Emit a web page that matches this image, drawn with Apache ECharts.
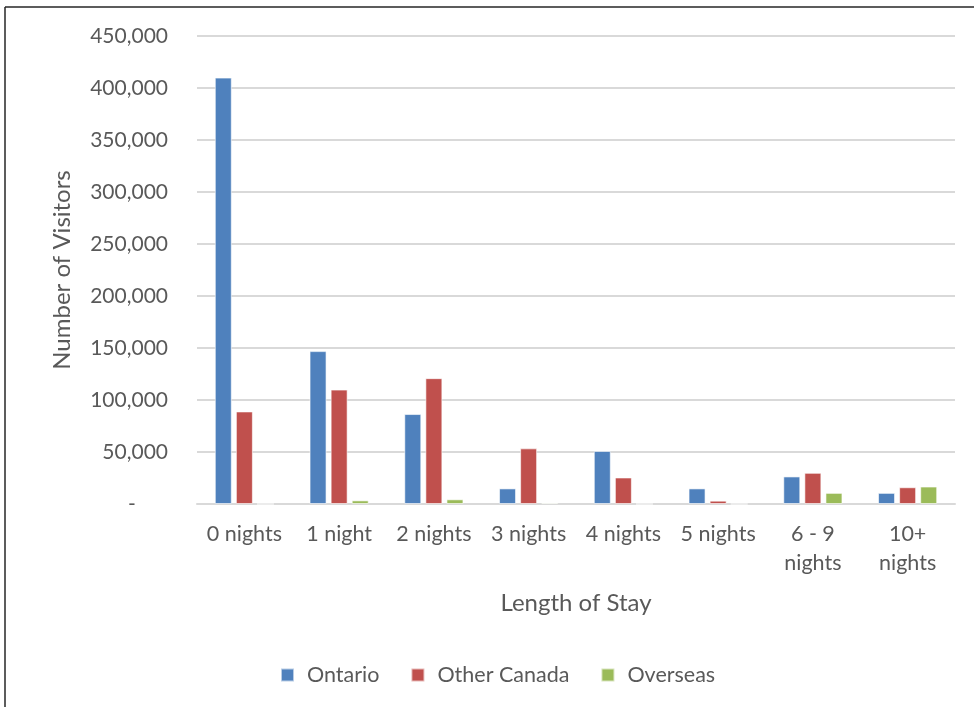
<!DOCTYPE html>
<html>
<head>
<meta charset="utf-8">
<script src="https://cdn.jsdelivr.net/npm/echarts@6/dist/echarts.min.js"></script>
<style>
  html, body { margin: 0; padding: 0; background: #ffffff; }
  #chart { width: 974px; height: 707px; }
</style>
</head>
<body>
<div id="chart"></div>
<script>
// Length-of-stay categories
const categories = ['0 nights', '1 night', '2 nights', '3 nights', '4 nights', '5 nights', '6 - 9\nnights', '10+\nnights'];

// Visitors by origin
const ontario = [410000, 147000, 86500, 15000, 51000, 15000, 26500, 10700];
const otherCanada = [89000, 110000, 121000, 53500, 25500, 3200, 30000, 16100];
const overseas = [0, 3500, 4500, 1200, 0, 0, 10700, 16800];

// Value axis ticks
const yMin = 0;
const yMax = 450000;
const yStep = 50000;

const font = 'Lato, "Open Sans", sans-serif';
const textColor = '#595959';

const chart = echarts.init(document.getElementById('chart'), null, { renderer: 'canvas' });

function barSeries(name, data, color) {
  return {
    name: name,
    type: 'bar',
    data: data,
    barWidth: 17,
    barGap: '24%',
    itemStyle: { color: color, borderColor: 'rgba(255,255,255,0.6)', borderWidth: 1 }
  };
}

chart.setOption({
  animation: false,
  backgroundColor: '#ffffff',
  textStyle: { fontFamily: font },
  grid: { left: 197, right: 19, top: 36, bottom: 203, containLabel: false },
  legend: {
    bottom: 21,
    left: 280,
    padding: 0,
    itemWidth: 13,
    itemHeight: 13,
    itemGap: 31,
    icon: 'rect',
    textStyle: { fontFamily: font, fontSize: 21.5, color: textColor, padding: [0, 0, 0, 8] },
    data: ['Ontario', 'Other Canada', 'Overseas']
  },
  xAxis: {
    type: 'category',
    data: categories,
    name: 'Length of Stay',
    nameLocation: 'middle',
    nameGap: 87,
    nameTextStyle: { fontFamily: font, fontSize: 24, color: textColor },
    axisLine: { show: true, lineStyle: { color: '#d9d9d9', width: 2 } },
    axisTick: { show: false },
    axisLabel: {
      interval: 0,
      margin: 16,
      fontFamily: font,
      fontSize: 21.5,
      lineHeight: 29,
      color: textColor
    }
  },
  yAxis: {
    type: 'value',
    min: yMin,
    max: yMax,
    interval: yStep,
    name: 'Number of Visitors',
    nameLocation: 'middle',
    nameGap: 123,
    nameRotate: 90,
    nameTextStyle: { fontFamily: font, fontSize: 24, color: textColor },
    axisLine: { show: false },
    axisTick: { show: false },
    splitLine: { lineStyle: { color: '#d9d9d9', width: 2 } },
    axisLabel: {
      margin: 29,
      fontFamily: font,
      fontSize: 21,
      color: textColor,
      formatter: function (v) {
        return v === 0 ? '-      ' : v.toLocaleString('en-US');
      }
    }
  },
  series: [
    barSeries('Ontario', ontario, '#4f81bd'),
    barSeries('Other Canada', otherCanada, '#c0504d'),
    barSeries('Overseas', overseas, '#9bbb59')
  ],
  graphic: [
    { type: 'line', shape: { x1: 5, y1: 7, x2: 974, y2: 7 }, style: { stroke: '#262626', lineWidth: 1.5 } },
    { type: 'line', shape: { x1: 5, y1: 7, x2: 5, y2: 707 }, style: { stroke: '#262626', lineWidth: 1.5 } }
  ]
});
</script>
</body>
</html>
